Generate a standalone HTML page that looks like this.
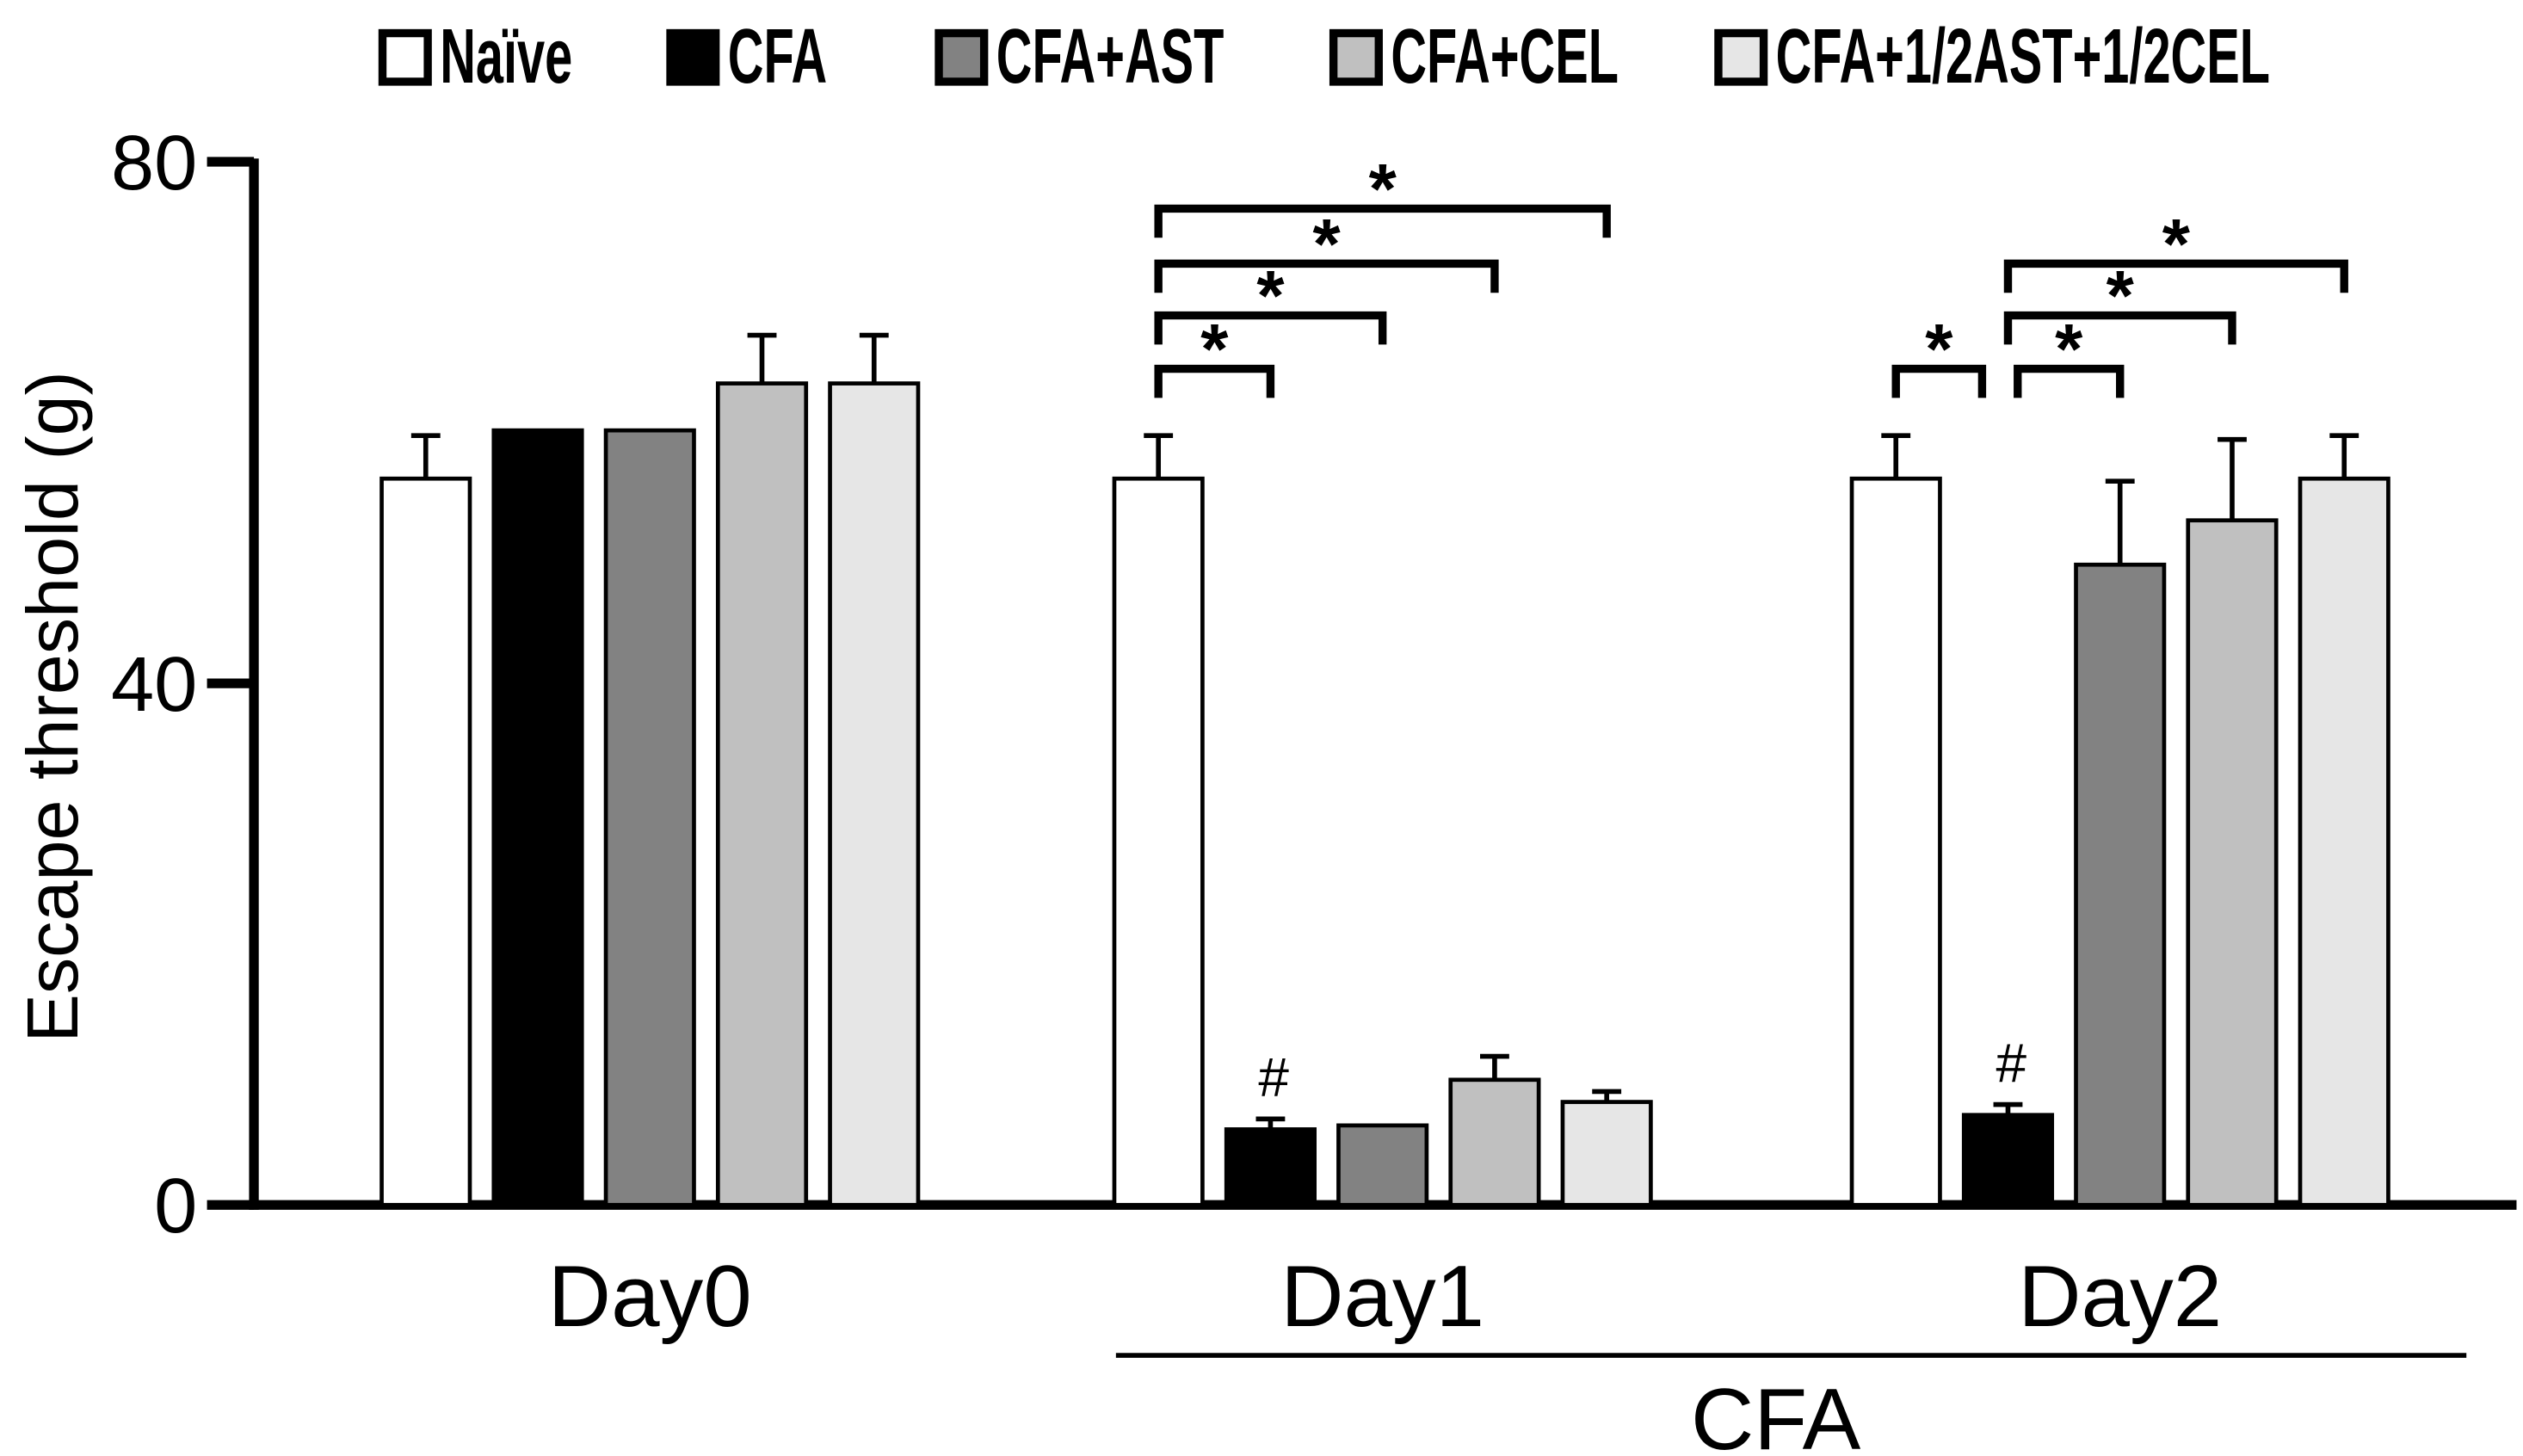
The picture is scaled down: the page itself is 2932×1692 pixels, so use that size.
<!DOCTYPE html>
<html><head><meta charset="utf-8"><style>
html,body{margin:0;padding:0;background:#fff;}
svg{display:block;}
text{font-family:"Liberation Sans","DejaVu Sans",sans-serif;fill:#000;}
</style></head><body>
<svg id="chart" width="2932" height="1692" viewBox="0 0 1560 900.2" preserveAspectRatio="none" xmlns="http://www.w3.org/2000/svg">
<g id="legend"></g>
<g id="axes"></g>
<g id="bars"></g>
<g id="sig"></g>
</svg>
<script>
const categories = ["Day0", "Day1", "Day2"];
const seriesNames = ["Naïve", "CFA", "CFA+AST", "CFA+CEL", "CFA+1/2AST+1/2CEL"];
const seriesColors = ["#ffffff", "#000000", "#828282", "#c0c0c0", "#e6e6e6"];
const naiveValues = [55.7, 55.7, 55.7];
const cfaValues = [59.4, 5.8, 6.9];
const astValues = [59.4, 6.1, 49.1];
const celValues = [63, 9.6, 52.5];
const mixValues = [63, 7.9, 55.7];
const naiveErr = [3.3, 3.3, 3.3];
const cfaErr = [0, 0.8, 0.8];
const astErr = [0, 0, 6.4];
const celErr = [3.7, 1.8, 6.2];
const mixErr = [3.7, 0.8, 3.3];
const yTicks = [0, 40, 80];
// brackets: [day, fromSeries, toSeries, level]
const brackets = [[1,0,1,0],[1,0,2,1],[1,0,3,2],[1,0,4,3],[2,0,1,0],[2,1,2,0],[2,1,3,1],[2,1,4,2]];
const hashMarks = [[1,1],[2,1]];

const NS = "http://www.w3.org/2000/svg";
const values = [naiveValues, cfaValues, astValues, celValues, mixValues];
const errs = [naiveErr, cfaErr, astErr, celErr, mixErr];
const X0 = 157, Y0 = 745, YTOP = 100, YMAX = 80;
const groupStart = [236, 689, 1145], barStep = 69.3, barW = 54.5;
function y(v){ return Y0 - (v / YMAX) * (Y0 - YTOP); }
function bx(d, s){ return groupStart[d] + s * barStep; }
function mk(tag, attrs, parent){ const e = document.createElementNS(NS, tag); for (const k in attrs) e.setAttribute(k, attrs[k]); parent.appendChild(e); return e; }

const legend = document.getElementById("legend");
const legX = [234, 412, 578, 822, 1060];
seriesNames.forEach((n, i) => {
  const g = mk("g", {}, legend);
  
  
  mk("rect", {x: legX[i]+2.5, y: 20.5, width: 28, height: 30, fill: seriesColors[i], stroke: "#000", "stroke-width": 5}, g);
  const tx = legX[i]+38;
  const t = mk("text", {x: tx, y: 51, "font-size": 48, "font-weight": "bold", transform: "translate(" + tx + ",0) scale(0.64,1) translate(" + (-tx) + ",0)"}, g);
  t.textContent = n;
});

const axes = document.getElementById("axes");
mk("line", {x1: X0, y1: YTOP-2, x2: X0, y2: Y0+3, stroke: "#000", "stroke-width": 6}, axes);
mk("line", {x1: X0-3, y1: Y0, x2: 1556, y2: Y0, stroke: "#000", "stroke-width": 6}, axes);
yTicks.forEach(v => {
  const l = mk("line", {x1: 128, y1: y(v), x2: X0, y2: y(v), stroke: "#000", "stroke-width": 6}, axes);
  
  const t = mk("text", {x: 122, y: y(v)+17, "font-size": 48, "text-anchor": "end"}, axes);
  
  t.textContent = v;
});
const yt = mk("text", {x: 0, y: 0, "font-size": 45, "text-anchor": "middle", transform: "translate(48,437) rotate(-90)"}, axes);

yt.textContent = "Escape threshold (g)";
categories.forEach((c, d) => {
  const cx = bx(d, 2) + barW/2;
  const t = mk("text", {x: cx, y: 820, "font-size": 54, "text-anchor": "middle"}, axes);
  
  t.textContent = c;
});
mk("line", {x1: 690, y1: 838, x2: 1525, y2: 838, stroke: "#000", "stroke-width": 3}, axes);
const cfa = mk("text", {x: 1098, y: 896, "font-size": 54, "text-anchor": "middle"}, axes);

cfa.textContent = "CFA";

const bars = document.getElementById("bars");
categories.forEach((c, d) => {
  values.forEach((arr, s) => {
    const x = bx(d, s), v = arr[d], top = y(v), e = errs[s][d];
    if (e > 0) {
      const cx = x + barW/2, ty = y(v + e);
      const el = mk("path", {d: "M"+cx+","+top+"V"+ty+"M"+(cx-9)+","+ty+"H"+(cx+9), stroke: "#000", "stroke-width": 3, fill: "none"}, bars);
      
    }
    const r = mk("rect", {x: x, y: top, width: barW, height: Y0 - top, fill: seriesColors[s], stroke: "#000", "stroke-width": 2.5}, bars);
    
    
  });
});

const sig = document.getElementById("sig");
const levelY = [228, 195, 163, 129];
brackets.forEach(b => {
  const [d, a, z, lv] = b;
  let x1 = bx(d, a) + barW/2, x2 = bx(d, z) + barW/2;
  const shared = brackets.some(o => o !== b && o[0] === d && o[1] === z && o[3] === lv);
  if (shared) x2 -= 16;
  if (brackets.some(o => o !== b && o[0] === d && o[2] === a && o[3] === lv)) x1 += 6;
  const yy = levelY[lv];
  const p = mk("path", {d: "M"+x1+","+(yy+18)+"V"+yy+"H"+x2+"V"+(yy+18), stroke: "#000", "stroke-width": 5, fill: "none"}, sig);
  
  const t = mk("text", {x: (x1+x2)/2, y: yy + 3, "font-size": 44, "font-weight": "bold", "text-anchor": "middle"}, sig);
  
  t.textContent = "*";
});
hashMarks.forEach(h => {
  const [d, s] = h;
  const cx = bx(d, s) + barW/2 + 2;
  const t = mk("text", {x: cx, y: y(values[s][d] + errs[s][d]) - 14, "font-size": 34, "text-anchor": "middle", "font-family": "Liberation Serif"}, sig);
  
  t.textContent = "#";
});
</script>
</body></html>
